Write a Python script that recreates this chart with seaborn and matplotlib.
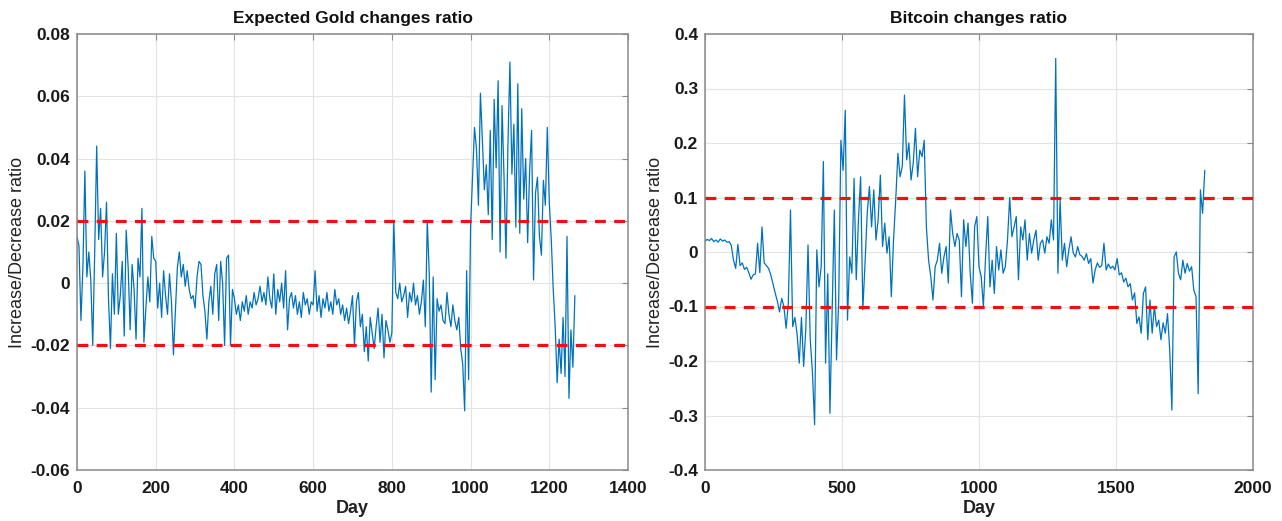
import numpy as np
import pandas as pd
import matplotlib
matplotlib.use("Agg")
import matplotlib.pyplot as plt
from matplotlib.ticker import FixedLocator, FuncFormatter
import seaborn as sns

# ---- data -------------------------------------------------------------
# Expected gold daily change ratio, in thousandths, one reading every 5 days
GOLD_STEP = 5
gold_days_0_395 = [
    15, 12, -12, 5, 36, 2, 10, 1, -20, 10, 44, 14, 24, 2, 10, 26, -5, -21, 3, -10,
    16, -10, -4, 7, -17, 17, 5, -15, 6, -2, -18, 8, 2, 24, -19, -8, 2, -6, 15, 8,
    7, -8, 0, -11, 4, -4, -10, 3, -6, -23, -9, 5, 10, 2, 6, -1, 4, -2, -5, -4,
    -8, 2, 7, 6, -4, -9, -18, -6, -1, -10, 3, 6, -12, 7, 0, -20, 8, 9, -20, -2,
]
gold_days_400_795 = [
    -5, -10, -7, -12, -6, -9, -4, -10, -6, -8, -3, -7, -5, -1, -6, -3, -7, 2, -5, -8,
    3, -10, -2, -6, 0, -8, 4, -15, -5, -3, -8, -4, -10, -6, -11, -3, -7, -5, -10, -6,
    -7, 4, -9, -4, -11, -5, -8, -3, -9, -6, -10, -2, -7, -5, -10, -7, -12, -8, -13, -9,
    -4, -20, -6, -3, -14, -10, -22, -14, -25, -11, -16, -21, -14, -8, -19, -10, -24, -12, -15, -19,
]
gold_days_800_1265 = [
    -16, 20, -3, -5, 0, -6, -4, -1, -11, -3, -6, 0, -7, -4, -10, -6, 1, -14, 20, 3,
    -35, 2, -31, -5, -9, -7, -12, -13, -3, -10, -14, -7, -12, -15, -11, -21, -26, -41, 4, -31,
    18, 34, 50, 43, 25, 61, 46, 30, 38, 22, 49, 14, 59, 37, 65, 10, 57, 34, 8, 45,
    71, 35, 51, 18, 64, 16, 56, 27, 40, 13, 36, 49, 1, 29, 34, 15, 9, 33, 25, 50,
    26, 14, -2, -14, -32, -18, -29, -11, -30, 15, -37, -15, -27, -4,
]

# Bitcoin daily change ratio, in thousandths, one reading every 8 days
BTC_STEP = 8
btc_days_0_592 = [
    20, 23, 21, 25, 19, 22, 18, 24, 20, 22, 18, 19, 12, -15, -30, 14, -25, -20, -32, -28, -38, -50, -42, -40, 16,
    -38, 46, -20, -25, -30, -42, -58, -75, -90, -110, -85, -100, -140, -95, 77, -137, -120, -150, -204, -120, -210, -140, 13, -160, -220,
    -317, 4, -64, -27, 166, -204, -40, -296, -113, 77, -198, -88, 205, 150, 260, -125, -9, -39, 135, -51, 59, 138, -106, -21, 71,
]
btc_days_600_1192 = [
    120, 46, 114, 22, 60, 141, 10, 53, -2, 28, -82, 22, 95, 181, 138, 157, 288, 169, 200, 132, 163, 227, 138, 187, 175,
    205, 46, -15, -45, -88, -27, -15, 16, -39, -9, 10, -57, 77, 34, 10, 34, 22, -82, 59, 10, 53, -40, -94, 46, 65,
    -27, -45, -100, -9, 65, -64, -15, -76, 10, -33, 4, -39, -27, 22, 100, 28, 46, 65, -51, 46, 22, 59, -15, 34, -2,
]
btc_days_1200_1824 = [
    22, 40, -15, 16, 22, -2, 28, 16, 59, 22, 355, -39, 95, -15, 16, -27, 4, 28, -2, -9, 10, -5, -8, -15, -3,
    -21, -12, -57, -33, -20, -28, -25, 16, -33, -22, -30, -26, -33, -12, -42, -38, -55, -48, -64, -58, -88, -75, -131, -119, -149,
    -76, -64, -161, -88, -149, -100, -137, -125, -161, -130, -149, -113, -180, -290, -9, 0, -39, -51, -15, -39, -21, -35, -27, -70, -82,
    -260, 114, 71, 150,
]

# Thresholds marking a significant rise / fall
gold_thresholds = [0.02, -0.02]
btc_thresholds = [0.1, -0.1]

gold_xticks = [0, 200, 400, 600, 800, 1000, 1200, 1400]
gold_yticks = [-0.06, -0.04, -0.02, 0, 0.02, 0.04, 0.06, 0.08]
btc_xticks = [0, 500, 1000, 1500, 2000]
btc_yticks = [-0.4, -0.3, -0.2, -0.1, 0, 0.1, 0.2, 0.3, 0.4]

titles = ["Expected Gold changes ratio", "Bitcoin changes ratio"]
x_label = "Day"
y_label = "Increase/Decrease ratio"

# ---- tables -----------------------------------------------------------
gold_vals = np.array(gold_days_0_395 + gold_days_400_795 + gold_days_800_1265) / 1000.0
btc_vals = np.array(btc_days_0_592 + btc_days_600_1192 + btc_days_1200_1824) / 1000.0
gold_df = pd.DataFrame({"Day": np.arange(len(gold_vals)) * GOLD_STEP, "ratio": gold_vals})
btc_df = pd.DataFrame({"Day": np.arange(len(btc_vals)) * BTC_STEP, "ratio": btc_vals})

# ---- style ------------------------------------------------------------
sns.set_theme(style="whitegrid")
plt.rcParams["font.family"] = ["Liberation Sans", "DejaVu Sans"]
plt.rcParams["axes.unicode_minus"] = False

LINE_BLUE = "#0072BD"
DASH_RED = "#EE1111"
GRID = "#E3E3E3"
SPINE = "#8A8A8A"

fig = plt.figure(figsize=(12.82, 5.21), dpi=100)
ax_gold = fig.add_axes([77 / 1282, 51 / 521, 551 / 1282, 436 / 521])
ax_btc = fig.add_axes([705 / 1282, 51 / 521, 548 / 1282, 436 / 521])


def fmt(v, _pos):
    return ("%g" % round(v, 4)) if abs(v) > 1e-12 else "0"


def style_axes(ax, df, thresholds, xticks, yticks, title):
    sns.lineplot(data=df, x="Day", y="ratio", ax=ax, color=LINE_BLUE,
                 linewidth=0.9, estimator=None, sort=False)
    for t in thresholds:
        ax.axhline(t, color=DASH_RED, linewidth=2.3, dashes=(3.4, 2.6), zorder=3)
    ax.set_xlim(xticks[0], xticks[-1])
    ax.set_ylim(yticks[0], yticks[-1])
    ax.xaxis.set_major_locator(FixedLocator(xticks))
    ax.yaxis.set_major_locator(FixedLocator(yticks))
    ax.xaxis.set_major_formatter(FuncFormatter(fmt))
    ax.yaxis.set_major_formatter(FuncFormatter(fmt))
    ax.grid(True, color=GRID, linewidth=0.8)
    ax.set_facecolor("white")
    for sp in ax.spines.values():
        sp.set_visible(True)
        sp.set_color(SPINE)
        sp.set_linewidth(1.1)
    ax.tick_params(axis="both", which="major", direction="in", length=4,
                   width=0.8, color=SPINE, top=True, right=True,
                   labelsize=12.5, labelcolor="#1a1a1a")
    ax.tick_params(axis="x", pad=8)
    ax.tick_params(axis="y", pad=5)
    for lab in ax.get_xticklabels() + ax.get_yticklabels():
        lab.set_fontweight("bold")
    ax.set_title(title, fontsize=12.5, fontweight="bold", color="#111111", pad=8)
    ax.set_xlabel(x_label, fontsize=13, fontweight="bold", color="#222222", labelpad=3)
    ax.set_ylabel(y_label, fontsize=13, color="#222222", labelpad=3)


style_axes(ax_gold, gold_df, gold_thresholds, gold_xticks, gold_yticks, titles[0])
style_axes(ax_btc, btc_df, btc_thresholds, btc_xticks, btc_yticks, titles[1])

fig.savefig("out.png", dpi=100, facecolor="white")
